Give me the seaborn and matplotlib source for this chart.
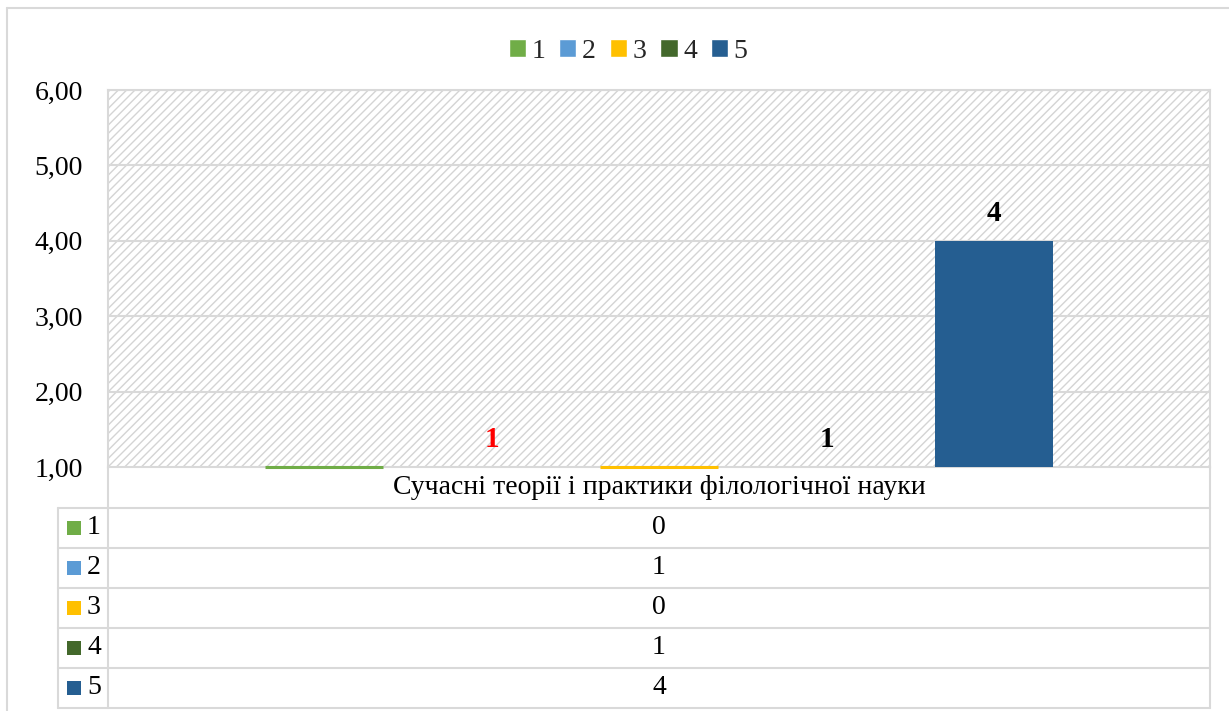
import matplotlib
matplotlib.use("Agg")
import matplotlib.pyplot as plt
from matplotlib.patches import Rectangle
from matplotlib.lines import Line2D
from matplotlib.ticker import FixedLocator, FuncFormatter
import seaborn as sns
import pandas as pd

# ---- data ----
category = "Сучасні теорії і практики філологічної науки"
series_names = ["1", "2", "3", "4", "5"]
values = [0, 1, 0, 1, 4]
series_colors = ["#70AD47", "#5B9BD5", "#FFC000", "#43682B", "#255E91"]
label_colors = [None, "#FF0000", None, "#000000", "#000000"]
y_ticks = [1, 2, 3, 4, 5, 6]

sns.set_theme(style="white")
plt.rcParams["font.family"] = ["Liberation Serif", "DejaVu Serif"]
plt.rcParams["hatch.linewidth"] = 1.0

W, H = 1229, 711
fig = plt.figure(figsize=(W / 100, H / 100), dpi=100)
fig.patch.set_facecolor("white")

def fx(px):
    return px / W

def fy(py):
    return 1 - py / H

L, R, T, B = 108, 1210, 90, 467
ax = fig.add_axes([fx(L), fy(B), fx(R - L), (B - T) / H])

grid_c = "#d9d9d9"
FS = 20

# hatched background
bg = Rectangle((0, 0), 1, 1, transform=ax.transAxes, facecolor="white",
               edgecolor="#d4d4d4", hatch="////", linewidth=0, zorder=0)
ax.add_patch(bg)

df = pd.DataFrame({"category": [category] * len(values),
                   "series": series_names, "value": values})
sns.barplot(data=df, x="category", y="value", hue="series",
            hue_order=series_names, palette=series_colors, saturation=1,
            width=0.76, gap=0.3, ax=ax, legend=True, zorder=3)

ymin, ymax = y_ticks[0], y_ticks[-1]
ax.set_xlim(-0.5, 0.5)
ax.set_ylim(ymin, ymax)
ax.yaxis.set_major_locator(FixedLocator(y_ticks))
ax.yaxis.set_major_formatter(FuncFormatter(lambda v, p: f"{v:.2f}".replace(".", ",")))
ax.tick_params(axis="y", length=0, pad=18, labelsize=FS, labelcolor="black")
ax.set_xticks([])
ax.set_xlabel("")
ax.set_ylabel("")
for y in y_ticks[1:]:
    ax.axhline(y, color=grid_c, lw=1.5, zorder=1)
for s in ax.spines.values():
    s.set_color(grid_c)
    s.set_linewidth(1.5)

# bars & labels (one container per hue level)
for cont, v, c, lc in zip(ax.containers, values, series_colors, label_colors):
    p = cont.patches[0]
    p.set_linewidth(0)
    xc = p.get_x() + p.get_width() / 2
    if v < ymin:
        ax.hlines(ymin, p.get_x(), p.get_x() + p.get_width(), color=c,
                  lw=2.2, clip_on=False, zorder=4)
    if lc is not None:
        ax.annotate(f"{v}", xy=(xc, max(v, ymin)), xytext=(0, 19.5),
                    textcoords="offset points", ha="center", va="center",
                    fontsize=21, fontweight="bold", color=lc, zorder=5)

# legend
sns.move_legend(ax, "center", bbox_to_anchor=(fx(628), fy(51)),
                bbox_transform=fig.transFigure, ncol=5, frameon=False,
                title=None, fontsize=FS, handlelength=0.62, handleheight=0.62,
                handletextpad=0.2, columnspacing=0.5, borderpad=0)

# ---- data table ----
def hline(y, x0, x1):
    fig.add_artist(Line2D([fx(x0), fx(x1)], [fy(y), fy(y)], color=grid_c, lw=1.5))

def vline(x, y0, y1):
    fig.add_artist(Line2D([fx(x), fx(x)], [fy(y0), fy(y1)], color=grid_c, lw=1.5))

row_tops = [508, 548, 588, 628, 668]
row_h = 40
for y in row_tops + [row_tops[-1] + row_h]:
    hline(y, 58, R)
vline(L, B, row_tops[-1] + row_h)
vline(R, B, row_tops[-1] + row_h)
vline(58, row_tops[0], row_tops[-1] + row_h)

cx = (L + R) / 2
fig.text(fx(cx), fy((B + row_tops[0]) / 2), category, ha="center", va="center",
         fontsize=FS, color="black")
for top, name, v, c in zip(row_tops, series_names, values, series_colors):
    yc = top + row_h / 2
    fig.text(fx(cx), fy(yc), f"{v}", ha="center", va="center", fontsize=FS, color="black")
    fig.add_artist(Rectangle((fx(67), fy(yc + 7)), fx(14), 14 / H, facecolor=c,
                             edgecolor="none", transform=fig.transFigure))
    fig.text(fx(87), fy(yc), name, ha="left", va="center", fontsize=FS, color="black")

# outer chart border
hline(8, 7, W)
vline(7, 8, H)

fig.savefig("out.png", dpi=100)
